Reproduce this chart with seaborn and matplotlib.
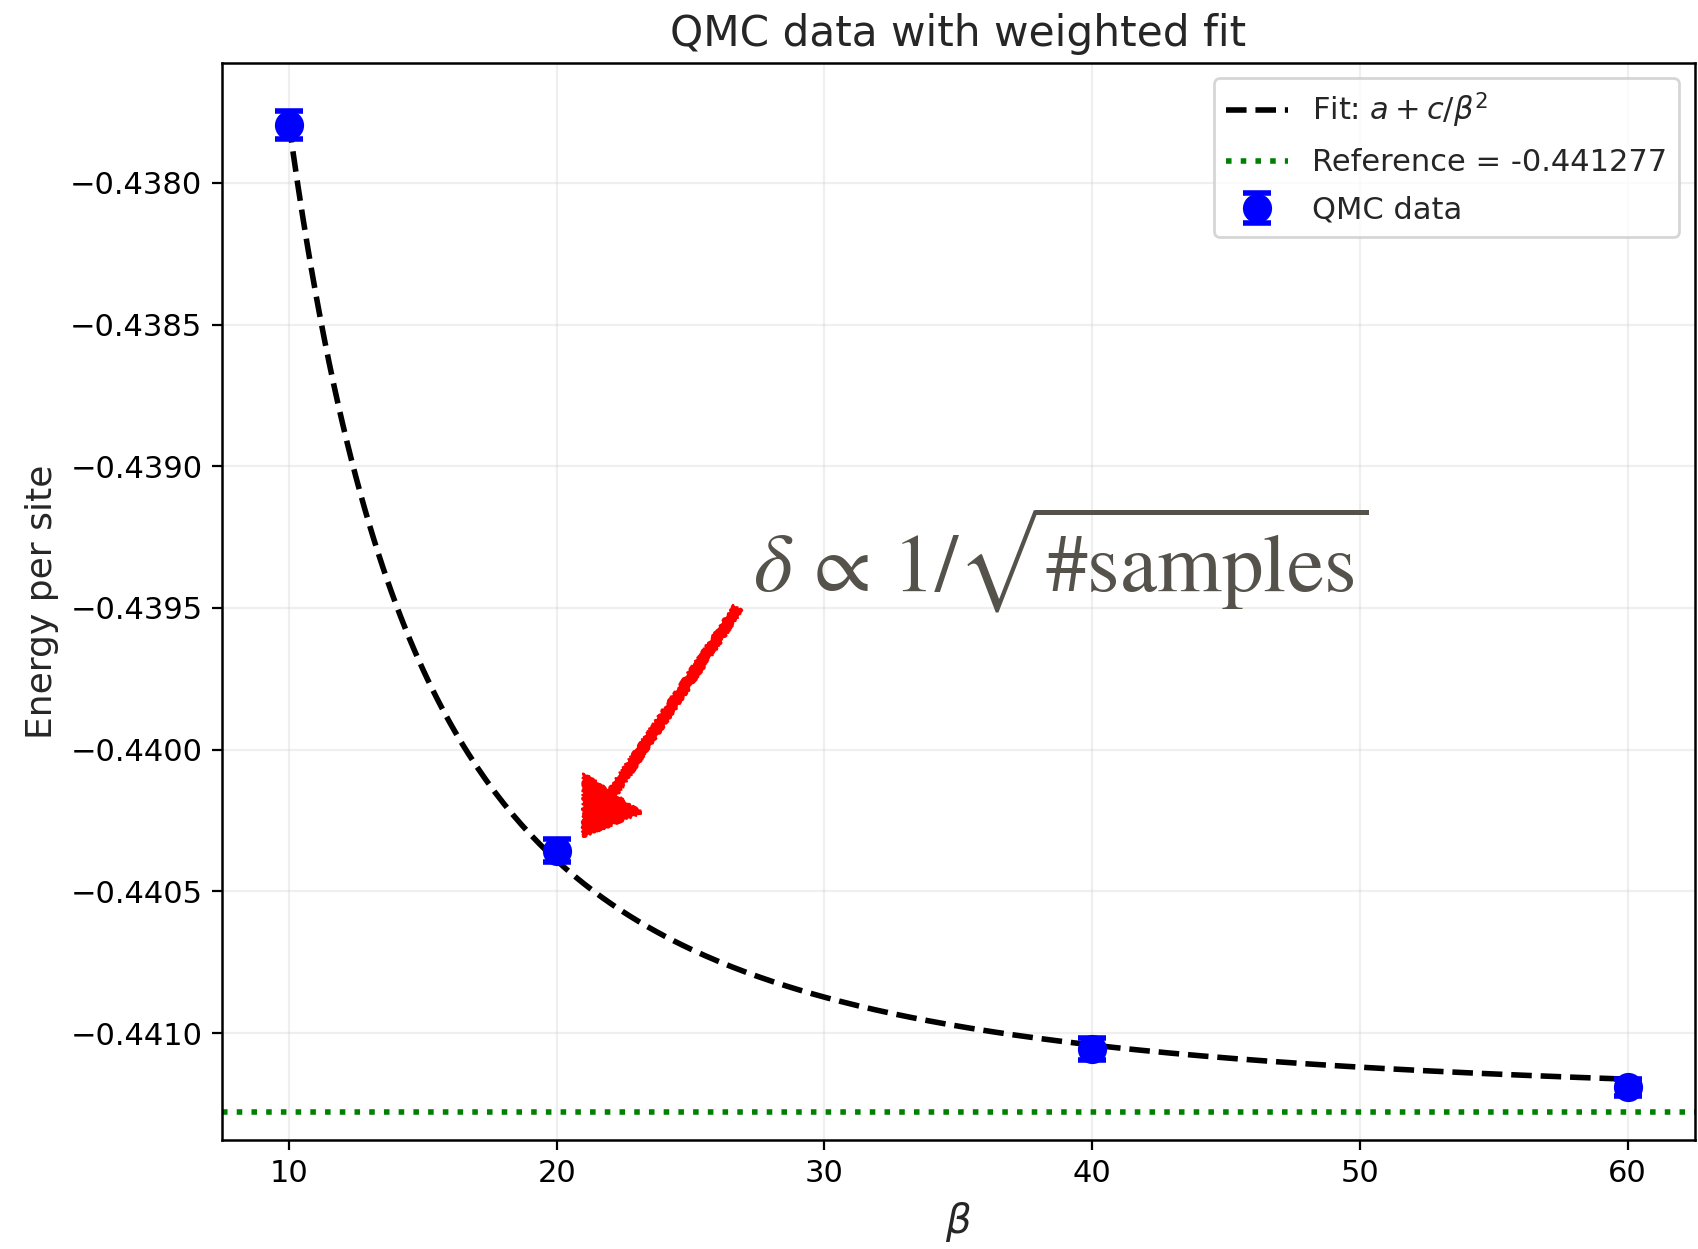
import numpy as np
import pandas as pd
import matplotlib
matplotlib.use("Agg")
import matplotlib.pyplot as plt
import seaborn as sns
from matplotlib.patches import FancyArrowPatch, ArrowStyle

# QMC measurements: inverse temperature, energy per site, statistical error
beta = [10, 20, 40, 60]
energy = [-0.437797, -0.440356, -0.441056, -0.441191]
energy_err = [0.00005, 0.00004, 0.00004, 0.00003]

# Exact reference energy
e_ref = -0.441277

# Fit parameters of E(beta) = a + c / beta^2
fit_a = -0.441259
fit_c = 0.3473

sns.set_style("ticks")
plt.rcParams["font.family"] = ["DejaVu Sans"]
plt.rcParams["font.size"] = 11

fig, ax = plt.subplots(figsize=(8.49, 6.245), dpi=200)
fig.subplots_adjust(left=0.1307, right=0.998, top=0.9496, bottom=0.0873)

beta_fine = np.linspace(min(beta), max(beta), 300)
fit_df = pd.DataFrame({"beta": beta_fine, "E": fit_a + fit_c / beta_fine**2})
sns.lineplot(data=fit_df, x="beta", y="E", ax=ax, color="black",
             linestyle="--", linewidth=2, label=r"Fit: $a + c/\beta^2$",
             legend=False)

ax.axhline(e_ref, color="green", linestyle=":", linewidth=2,
           label=f"Reference = {e_ref}")

ax.errorbar(beta, energy, yerr=energy_err, fmt="o", color="blue",
            markersize=9.5, capsize=5, capthick=2, elinewidth=2,
            label="QMC data")

ax.set_xlim(7.5, 62.5)
ax.set_ylim(-0.441377, -0.437577)
ax.set_yticks(np.arange(-0.4410, -0.43795, 0.0005))
ax.set_xticks([10, 20, 30, 40, 50, 60])
ax.yaxis.set_major_formatter(matplotlib.ticker.FuncFormatter(
    lambda v, p: f"{v:.4f}".replace("-", "\u2212")))
ax.tick_params(labelsize=11, length=3.5, width=0.8, colors="black")
for s in ax.spines.values():
    s.set_color("black")
    s.set_linewidth(0.9)

ax.grid(True, alpha=0.3)
ax.set_xlabel(r"$\beta$", fontsize=14.5)
ax.set_ylabel("Energy per site", fontsize=13)
ax.set_title("QMC data with weighted fit", fontsize=15.2)

ax.legend(loc="upper right", fontsize=11, framealpha=0.8, labelspacing=0.6)

# Scaling of the error bars
ax.text(27.35, -0.439439,
        r"$\delta\,\propto\,1/\sqrt{\#\mathrm{samples}}$",
        fontsize=30, color="#55514b", math_fontfamily="stix",
        ha="left", va="baseline", zorder=5)

arrow = FancyArrowPatch((26.77, -0.4395007), (20.98, -0.440307),
                        arrowstyle=ArrowStyle("simple", head_length=19,
                                              head_width=25, tail_width=3.4),
                        mutation_scale=1, color="red", lw=0.8,
                        shrinkA=0, shrinkB=0, zorder=6)
arrow.set_sketch_params(scale=1.2, length=5, randomness=10)
ax.add_patch(arrow)

fig.savefig("out.png", dpi=200)
